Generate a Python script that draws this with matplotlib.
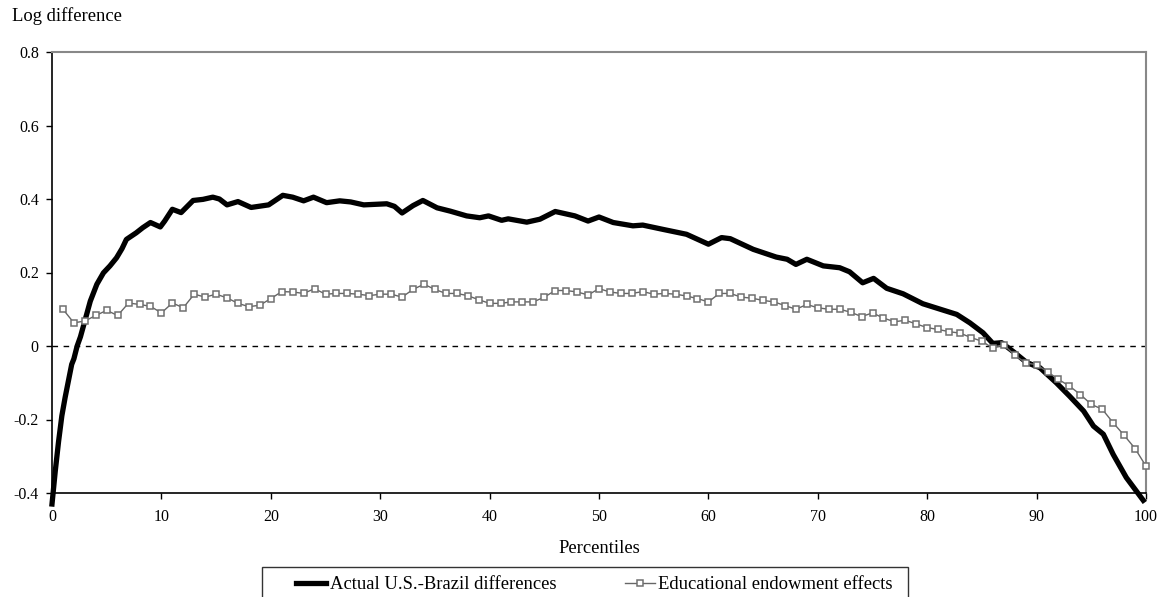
import numpy as np
import matplotlib
matplotlib.use("Agg")
import matplotlib.pyplot as plt
from matplotlib.patches import Rectangle

plt.rcParams['font.family'] = ['Liberation Serif', 'DejaVu Serif']

# actual U.S.-Brazil log differences (percentile, value)
actual_pct = [0.0, 0.3, 0.6, 0.9, 1.2, 1.5, 1.8, 2.0, 2.3, 2.6, 3.0, 3.5, 4.1, 4.7,
              5.3, 5.9, 6.4, 6.8, 7.7, 8.3, 9.0, 9.9, 10.3, 11.0, 11.8, 12.9, 13.8,
              14.7, 15.3, 16.0, 17.0, 18.2, 19.8, 21.1, 22.0, 23.0, 23.9, 25.1, 26.3,
              27.3, 28.5, 30.6, 31.3, 32.0, 33.0, 33.9, 35.2, 36.4, 37.9, 39.1, 39.9,
              41.1, 41.7, 43.4, 44.6, 46.0, 47.8, 49.0, 50.0, 51.3, 53.1, 54.0, 55.9,
              58.0, 60.0, 61.2, 62.0, 64.1, 66.2, 67.2, 68.0, 69.0, 70.5, 72.0, 72.9,
              74.1, 75.1, 76.3, 77.8, 79.6, 81.2, 82.7, 83.9, 85.1, 86.0, 86.8, 87.9,
              89.1, 90.3, 91.8, 93.0, 94.3, 95.2, 96.1, 97.0, 98.2, 99.75]
actual_val = [-0.43, -0.34, -0.26, -0.19, -0.14, -0.095, -0.05, -0.035, 0.0, 0.025,
              0.068, 0.122, 0.168, 0.199, 0.218, 0.240, 0.265, 0.290, 0.308, 0.322,
              0.336, 0.324, 0.340, 0.372, 0.363, 0.396, 0.399, 0.405, 0.400, 0.384,
              0.393, 0.377, 0.384, 0.410, 0.405, 0.395, 0.405, 0.390, 0.395, 0.392,
              0.384, 0.387, 0.380, 0.362, 0.382, 0.396, 0.376, 0.367, 0.354, 0.349,
              0.354, 0.342, 0.346, 0.337, 0.345, 0.366, 0.354, 0.340, 0.351, 0.336,
              0.327, 0.329, 0.317, 0.304, 0.277, 0.295, 0.292, 0.263, 0.242, 0.236,
              0.222, 0.236, 0.218, 0.213, 0.202, 0.172, 0.184, 0.157, 0.142, 0.115,
              0.100, 0.086, 0.063, 0.036, 0.007, 0.009, -0.016, -0.045, -0.059, -0.100,
              -0.136, -0.177, -0.218, -0.240, -0.295, -0.358, -0.42]

# educational endowment effects at percentiles 1..100
edu_pct = list(range(1, 101))
edu_val = [0.100, 0.063, 0.068, 0.083, 0.097, 0.083, 0.117, 0.113, 0.108, 0.090,
           0.117, 0.104, 0.141, 0.133, 0.141, 0.131, 0.116, 0.107, 0.111, 0.129,
           0.148, 0.147, 0.143, 0.156, 0.141, 0.143, 0.143, 0.141, 0.137, 0.141,
           0.141, 0.133, 0.154, 0.168, 0.154, 0.143, 0.143, 0.137, 0.126, 0.116,
           0.116, 0.120, 0.120, 0.120, 0.133, 0.151, 0.151, 0.147, 0.139, 0.156,
           0.147, 0.143, 0.143, 0.148, 0.141, 0.143, 0.141, 0.136, 0.129, 0.120,
           0.143, 0.143, 0.133, 0.130, 0.124, 0.120, 0.110, 0.100, 0.113, 0.104,
           0.100, 0.100, 0.092, 0.080, 0.090, 0.076, 0.066, 0.070, 0.060, 0.050,
           0.045, 0.039, 0.035, 0.023, 0.013, -0.006, 0.003, -0.025, -0.046, -0.051,
           -0.070, -0.091, -0.109, -0.132, -0.159, -0.172, -0.209, -0.243, -0.279, -0.327]

W, H = 1163, 597
fig = plt.figure(figsize=(W / 100, H / 100), dpi=100)
ax = fig.add_axes([52 / W, 1 - 493 / H, (1146 - 52) / W, (493 - 52) / H])

ax.axhline(0, color='black', lw=1, ls=(0, (4, 4)), zorder=1)
ax.plot(actual_pct, actual_val, color='black', lw=3.8, solid_joinstyle='round',
        label='Actual U.S.-Brazil differences', zorder=3, clip_on=False)
ax.plot(edu_pct, edu_val, color='#666666', lw=1, marker='s', ms=5, mfc='white',
        mec='#707070', mew=1.1, label='Educational endowment effects', zorder=4,
        clip_on=False)

ax.set_xlim(0, 100)
ax.set_ylim(-0.4, 0.8)
ax.set_xticks(range(0, 101, 10))
ax.set_yticks([-0.4, -0.2, 0, 0.2, 0.4, 0.6, 0.8])
ax.set_yticklabels(['-0.4', '-0.2', '0', '0.2', '0.4', '0.6', '0.8'])
ax.tick_params(labelsize=11.5, length=4.5, width=1, color='black')
ax.tick_params(axis='x', pad=7)
ax.tick_params(axis='y', pad=5)

for s in ['top', 'right']:
    ax.spines[s].set_color('#888888')
    ax.spines[s].set_linewidth(1.5)
for s in ['left', 'bottom']:
    ax.spines[s].set_color('black')
    ax.spines[s].set_linewidth(1.2)

ax.set_xlabel('Percentiles', fontsize=13.4, labelpad=11)
fig.text(12 / W, 1 - 16 / H, 'Log difference', fontsize=13.4, va='center', ha='left')

# legend box, running off the bottom edge like the reference
fig.patches.append(Rectangle((262 / W, -0.05), (908 - 262) / W, 0.05 + 1 - 567 / H,
                             transform=fig.transFigure, fill=False,
                             edgecolor='#333333', lw=1))
leg = ax.legend(loc='upper left', bbox_to_anchor=(296 / W, 1 - 576 / H),
                bbox_transform=fig.transFigure, ncol=2, fontsize=13.4, frameon=False,
                borderaxespad=0, borderpad=0, handlelength=1.6, columnspacing=3.7,
                handletextpad=0.2)

fig.savefig('out.png', dpi=100)
